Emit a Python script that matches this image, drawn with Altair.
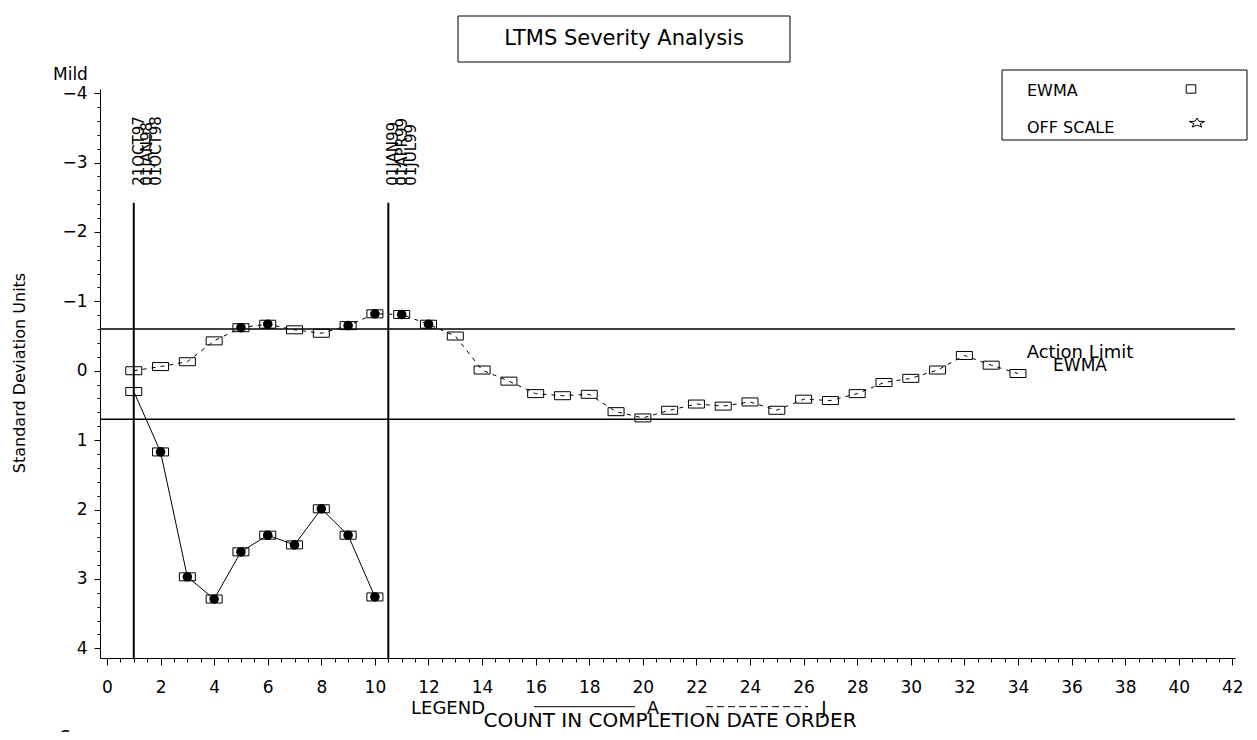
import math
import altair as alt
import pandas as pd

# ---------------- data ----------------
a_count = list(range(1, 11))
a_ewma = [0.30, 1.17, 2.97, 3.29, 2.61, 2.37, 2.51, 1.99, 2.37, 3.26]

j_count = list(range(1, 35))
j_ewma = [0.00, -0.06, -0.13, -0.43, -0.62, -0.67, -0.59, -0.54, -0.65, -0.82,
          -0.81, -0.67, -0.50, -0.01, 0.15, 0.33, 0.36, 0.34, 0.59, 0.68,
          0.57, 0.48, 0.51, 0.45, 0.57, 0.41, 0.43, 0.33, 0.17, 0.11,
          -0.01, -0.22, -0.08, 0.04]

action_limits = [-0.60, 0.70]
ref_counts = [1.0, 10.5]
ref_top = -2.42
ref_labels = [["21OCT97", "01JAN98", "01OCT98"],
              ["01JAN99", "01APR99", "01JUL99"]]

x_major = list(range(0, 43, 2))
x_minor = [k / 2 for k in range(0, 85)]
y_major = list(range(-4, 5))
y_minor = [round(-4 + 0.2 * k, 1) for k in range(41)]

# ---------------- layout ----------------
W, H = 1135, 569
FONT = "DejaVu Sans"

series = pd.concat([
    pd.DataFrame({"count": a_count, "ewma": a_ewma, "curve": "A"}),
    pd.DataFrame({"count": j_count, "ewma": j_ewma, "curve": "J"}),
], ignore_index=True)
lo, hi = min(action_limits), max(action_limits)
series["off"] = (series["ewma"] < lo) | (series["ewma"] > hi)

xs = alt.Scale(domain=[-0.26, 42.1], nice=False, zero=False)
ys = alt.Scale(domain=[-4.06, 4.14], nice=False, zero=False, reverse=True)

BOX = "M-2,-1 L2,-1 L2,1 L-2,1 Z"
SQ = "M-1.15,-1 L1.15,-1 L1.15,1 L-1.15,1 Z"
pts = []
for k in range(10):
    r = 1.0 if k % 2 == 0 else 0.42
    ang = math.radians(-90 + 36 * k)
    pts.append((r * math.cos(ang), r * math.sin(ang) * 0.62))
STAR = "M" + " L".join(f"{px:.3f},{py:.3f}" for px, py in pts) + " Z"

base = alt.Chart(series)

def X(axis=None):
    return alt.X("count:Q", scale=xs, axis=axis)

def Y(axis=None):
    return alt.Y("ewma:Q", scale=ys, axis=axis)

minor = base.mark_point(opacity=0).encode(
    x=X(alt.Axis(values=x_minor, orient="bottom", labels=False, domain=False,
                 tickSize=4, tickColor="black", tickWidth=1, grid=False, title=None)),
    y=Y(alt.Axis(values=y_minor, orient="left", labels=False, domain=False,
                 tickSize=3, tickColor="black", tickWidth=1, grid=False, title=None)),
)

j_line = base.transform_filter("datum.curve === 'J'").mark_line(
    color="black", strokeWidth=1, strokeDash=[4, 5]
).encode(
    x=X(alt.Axis(values=x_major, orient="bottom", format="d", tickSize=7,
                 labelPadding=14, domainColor="black", domainWidth=1,
                 tickColor="black", grid=False, title=None)),
    y=Y(alt.Axis(values=y_major, orient="left", format="d", tickSize=6,
                 labelPadding=7, domainColor="black", domainWidth=1,
                 tickColor="black", grid=False, title=None)),
)

a_line = base.transform_filter("datum.curve === 'A'").mark_line(
    color="black", strokeWidth=1
).encode(x=X(), y=Y())

boxes = base.mark_point(shape=BOX, size=64, filled=False, color="black",
                        strokeWidth=1, opacity=1).encode(x=X(), y=Y())

dots = base.transform_filter("datum.off").mark_point(
    shape="circle", size=92, filled=True, color="black", opacity=1
).encode(x=X(), y=Y())

limits = alt.Chart(pd.DataFrame({"limit": action_limits})).mark_rule(
    color="black", strokeWidth=1.5
).encode(y=alt.Y("limit:Q", scale=ys, axis=None))

refs = alt.Chart(pd.DataFrame({"count": ref_counts, "top": [ref_top] * len(ref_counts)})).mark_rule(
    color="black", strokeWidth=2
).encode(x=alt.X("count:Q", scale=xs, axis=None),
         y=alt.Y("top:Q", scale=ys, axis=None),
         y2=alt.value(H))

lab_rows = []
for pos, labs in zip(ref_counts, ref_labels):
    for i, s in enumerate(labs):
        lab_rows.append({"count": pos, "top": ref_top, "label": s, "rank": i})
lab_df = pd.DataFrame(lab_rows)
date_layers = []
for i, off in enumerate([5, 13.5, 22.5]):
    date_layers.append(
        alt.Chart(lab_df).transform_filter(f"datum.rank === {i}").mark_text(
            font=FONT, fontSize=15, angle=270, align="left", baseline="middle",
            dx=17, dy=off, color="black"
        ).encode(x=alt.X("count:Q", scale=xs, axis=None),
                 y=alt.Y("top:Q", scale=ys, axis=None),
                 text="label:N")
    )

def txt(s, x, y, size, align="left", angle=0):
    return alt.Chart(pd.DataFrame({"t": [s]})).mark_text(
        font=FONT, fontSize=size, align=align, baseline="middle",
        angle=angle, color="black"
    ).encode(x=alt.value(x), y=alt.value(y), text="t:N")

def box(x1, y1, x2, y2):
    return alt.Chart(pd.DataFrame({"b": [0]})).mark_rect(
        fill="white", fillOpacity=0, stroke="black", strokeWidth=1
    ).encode(x=alt.value(x1), x2=alt.value(x2), y=alt.value(y1), y2=alt.value(y2))

def hline(x1, x2, y, dash=None):
    kw = {"color": "black", "strokeWidth": 1}
    if dash:
        kw["strokeDash"] = dash
    return alt.Chart(pd.DataFrame({"b": [0]})).mark_rule(**kw).encode(
        x=alt.value(x1), x2=alt.value(x2), y=alt.value(y))

def sym(shape, x, y, size):
    return alt.Chart(pd.DataFrame({"b": [0]})).mark_point(
        shape=shape, size=size, filled=False, color="black", strokeWidth=1, opacity=1
    ).encode(x=alt.value(x), y=alt.value(y))

annot = [
    box(358, -73, 690, -27),
    txt("LTMS Severity Analysis", 524, -50, 21, align="center"),
    txt("Mild", -47, -14, 17),
    box(902, -19, 1147, 51),
    txt("EWMA", 927, 2, 16),
    sym(SQ, 1091, 0, 70),
    txt("OFF SCALE", 927, 39, 16),
    sym(STAR, 1097, 34, 260),
    txt("Standard Deviation Units", -80, 284, 16, align="center", angle=270),
    txt("Action Limit", 980, 264, 18, align="center"),
    txt("EWMA", 980, 277, 17, align="center"),
    txt("LEGEND", 311, 620, 18),
    hline(434, 535, 617.7),
    txt("A", 553, 620, 18, align="center"),
    hline(606, 708, 617.7, dash=[7, 4]),
    txt("J", 724, 620, 18, align="center"),
    txt("COUNT IN COMPLETION DATE ORDER", 570, 632, 20, align="center"),
    txt("Source", -40, 649, 17),
]

chart = alt.layer(
    minor, limits, refs, *date_layers, j_line, a_line, boxes, dots, *annot
).resolve_axis(
    x="independent", y="independent"
).properties(
    width=W, height=H,
    autosize=alt.AutoSizeParams(type="none"),
    padding={"left": 92, "top": 81, "right": 14, "bottom": 74},
    background="white",
).configure_view(
    stroke=None
).configure_axis(
    labelFont=FONT, labelFontSize=17, labelColor="black", grid=False
)

chart.save("out.html", embed_options={"renderer": "svg", "actions": False})
